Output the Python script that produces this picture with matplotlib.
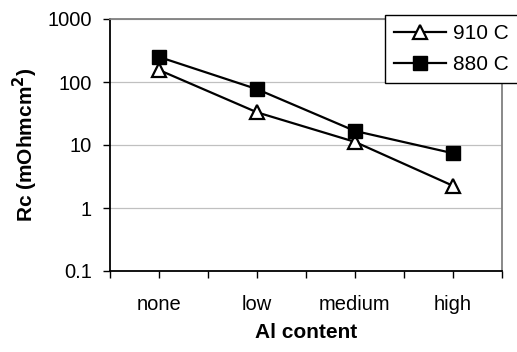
import matplotlib
matplotlib.use("Agg")
import matplotlib.pyplot as plt
from matplotlib.ticker import FixedLocator, NullLocator, FixedFormatter

plt.rcParams['font.family'] = ['Liberation Sans', 'DejaVu Sans']

# donnees
categories = ['none', 'low', 'medium', 'high']
rc_910 = [155, 33, 11.2, 2.25]
rc_880 = [250, 77, 16.7, 7.4]
yticks = [0.1, 1, 10, 100, 1000]
ylabels = ['0.1', '1', '10', '100', '1000']

fig = plt.figure(figsize=(5.17, 3.52), dpi=100)
ax = fig.add_axes([110/517, 1-271/352, 392/517, 252/352])

x = list(range(len(categories)))
l1, = ax.plot(x, rc_910, color='black', lw=1.6, marker='^', ms=10,
              mfc='white', mec='black', mew=1.6, label='910 C')
l2, = ax.plot(x, rc_880, color='black', lw=1.6, marker='s', ms=10,
              mfc='black', mec='black', label='880 C')

ax.set_yscale('log')
ax.set_ylim(0.1, 1000)
ax.set_xlim(-0.5, 3.5)
ax.yaxis.set_major_locator(FixedLocator(yticks))
ax.yaxis.set_major_formatter(FixedFormatter(ylabels))
ax.yaxis.set_minor_locator(NullLocator())
ax.set_xticks(x)
ax.set_xticklabels(categories)
ax.xaxis.set_minor_locator(FixedLocator([-0.5, 0.5, 1.5, 2.5, 3.5]))

ax.grid(axis='y', which='major', color='#c0c0c0', lw=0.9)
ax.set_axisbelow(True)
ax.tick_params(axis='both', which='both', direction='out', length=5, width=1,
               labelsize=14.5, color='black')
ax.tick_params(axis='x', pad=12)
ax.tick_params(axis='y', pad=8)

ax.spines['left'].set_color('black')
ax.spines['bottom'].set_color('black')
ax.spines['top'].set_color('#808080')
ax.spines['right'].set_color('#808080')
for s in ax.spines.values():
    s.set_linewidth(1.3)

ax.set_xlabel('Al content', fontsize=15, fontweight='bold', labelpad=7)
ax.set_ylabel('Rc (mOhmcm$^\\mathbf{2}$)', fontsize=15, fontweight='bold', labelpad=5)

# legende qui deborde a droite comme dans l'original
leg = fig.legend(handles=[l1, l2], loc='upper left', mode='expand',
                 bbox_to_anchor=(385/517, 1-15/352, 140/517, 0), fontsize=15,
                 frameon=True, fancybox=False, framealpha=1, edgecolor='black',
                 handlelength=2.5, borderpad=0.45, labelspacing=0.55,
                 handletextpad=0.3, borderaxespad=0)
leg.get_frame().set_linewidth(1.0)

fig.savefig('out.png', dpi=100)
